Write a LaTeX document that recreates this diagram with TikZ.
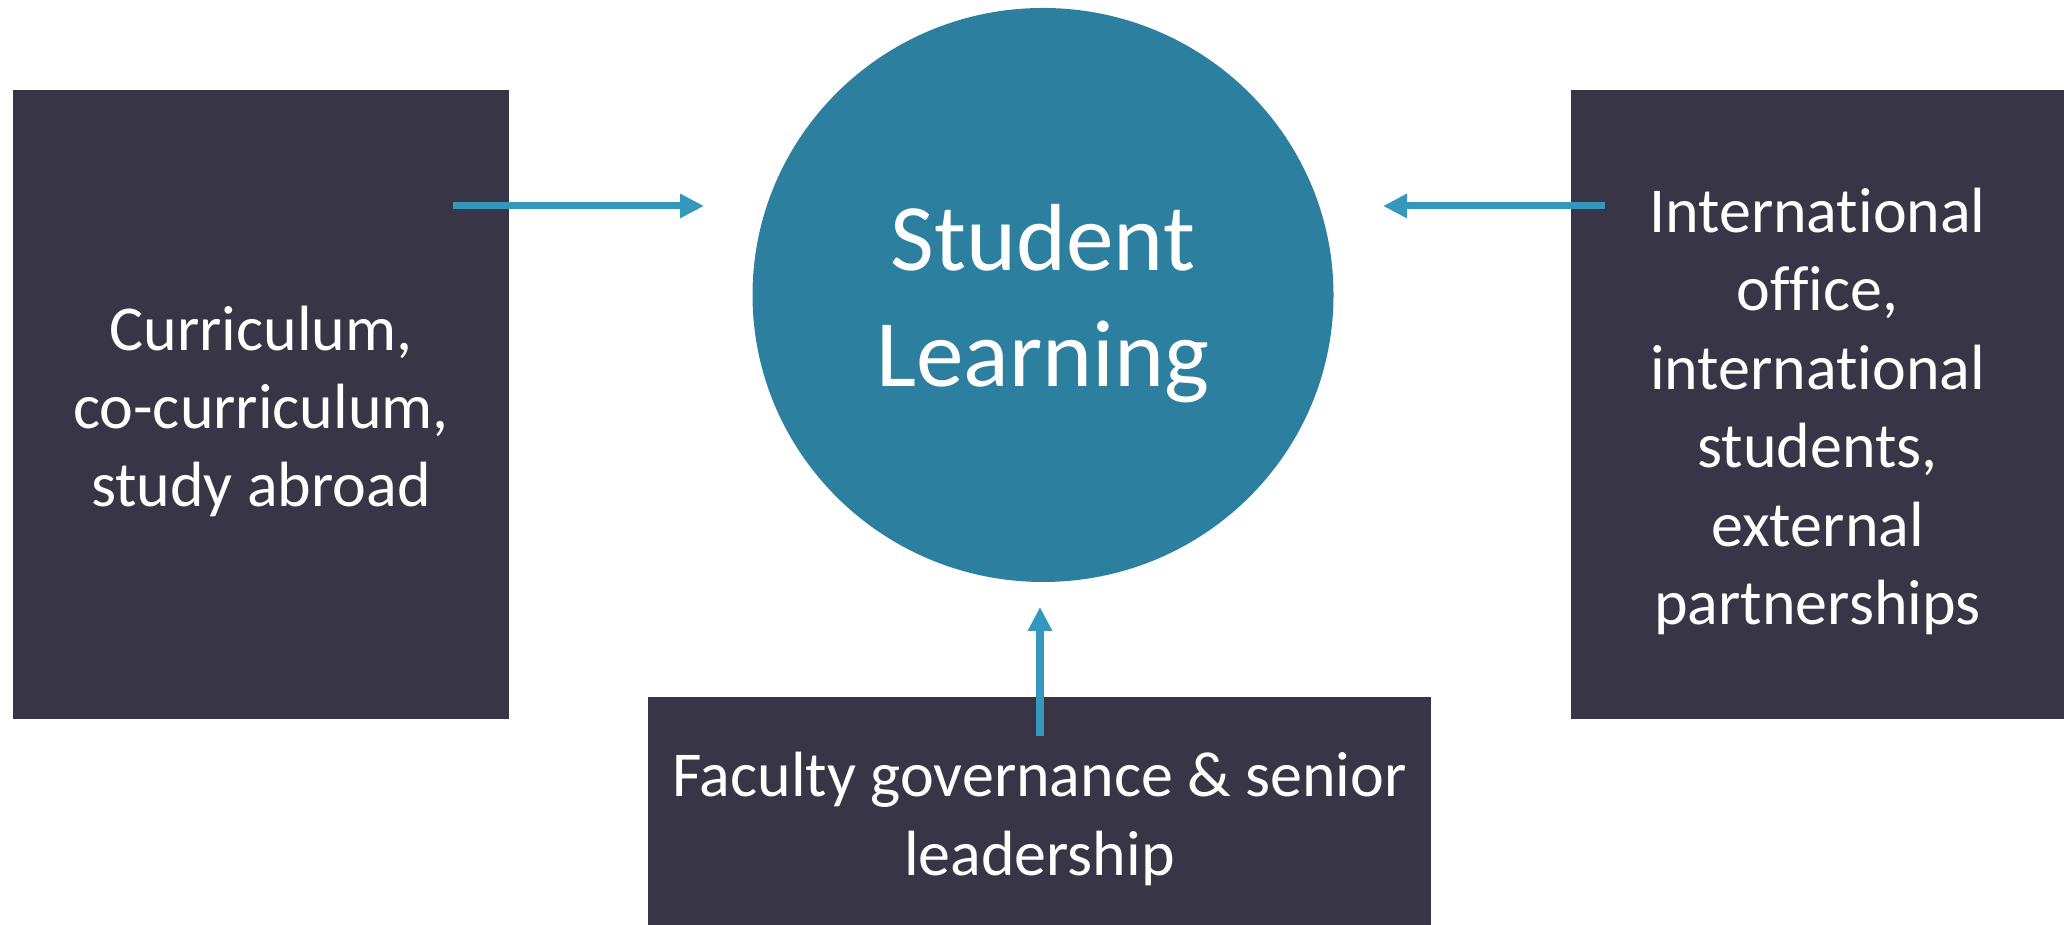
\documentclass[tikz,border=0pt]{standalone}
\usepackage{fontspec}
\setmainfont{Carlito}[Ligatures = NoCommon]
\usepackage{xcolor}
\usepackage{tikz}
\usetikzlibrary{shapes, shapes.geometric, positioning, arrows.meta}
\definecolor{boxdark}{HTML}{383547}
\definecolor{circleblue}{HTML}{2D7F9F}
\definecolor{arrowblue}{HTML}{3597BC}

\begin{document}
\begin{tikzpicture}[
    areabox/.style = {fill = boxdark, inner sep = 0pt},
    areatext/.style = {text = white, align = center, inner sep = 0pt,
        font = \fontsize{18.2}{22.3}\selectfont},
    flow/.style = {line width = 2pt, draw = arrowblue,
        -{Triangle[length = 0.24cm, width = 0.23cm]}}
  ]
    \useasboundingbox (0, 0) rectangle (20.64, 9.25);

    % draw the centre circle
    \node[ellipse, fill = circleblue, inner sep = 0pt,
        minimum width = 5.81cm, minimum height = 5.74cm]
        (learning) at (10.43cm, 6.30cm) {};
    \node[text = white, align = center, inner sep = 0pt,
        font = \fontsize{27.1}{33}\selectfont]
        (learning-text) at ([yshift = -0.09cm]learning.center) {Student\\Learning};

    % draw the three boxes
    \node[areabox, minimum width = 4.96cm, minimum height = 6.29cm]
        (curriculum) at (2.61cm, 5.205cm) {};
    \node[areatext] (curriculum-text) at ([yshift = -0.07cm]curriculum.center)
        {Curriculum,\\co-curriculum,\\study abroad};

    \node[areabox, minimum width = 4.93cm, minimum height = 6.29cm]
        (office) at (18.175cm, 5.205cm) {};
    \node[areatext] (office-text) at ([yshift = -0.07cm]office.center)
        {International\\office,\\international\\students,\\external\\partnerships};

    \node[areabox, minimum width = 7.83cm, minimum height = 2.28cm]
        (faculty) at (10.395cm, 1.14cm) {};
    \node[areatext] (faculty-text) at ([yshift = -0.08cm]faculty.center)
        {Faculty governance \& senior\\leadership};


    % arrow ends
    \coordinate (curriculum-out) at (4.53cm, 7.19cm);
    \coordinate (learning-left) at (7.04cm, 7.19cm);
    \coordinate (office-out) at (16.05cm, 7.19cm);
    \coordinate (learning-right) at (13.83cm, 7.19cm);
    \coordinate (faculty-out) at (10.40cm, 1.89cm);
    \coordinate (learning-below) at (10.40cm, 3.18cm);

    % draw arrows into the circle
    \draw[flow] (curriculum-out) -- (learning-left);
    \draw[flow] (office-out) -- (learning-right);
    \draw[flow] (faculty-out) -- (learning-below);

\end{tikzpicture}
\end{document}
